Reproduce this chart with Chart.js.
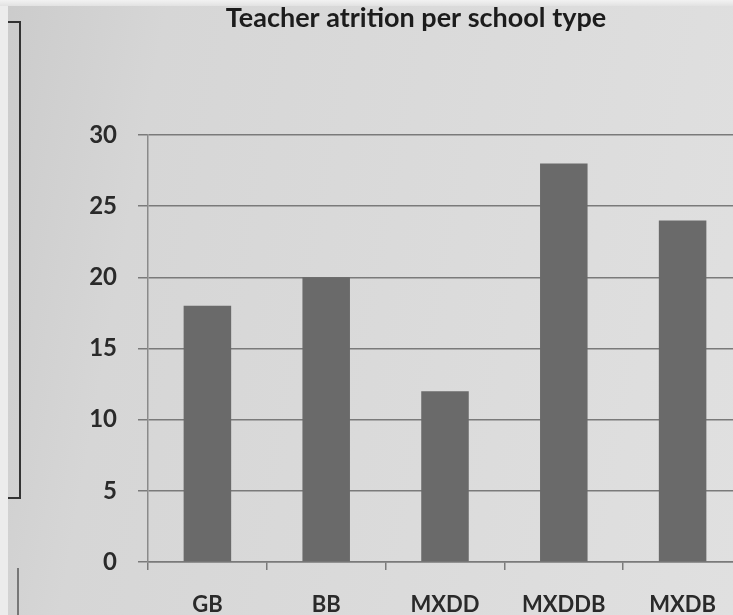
<!DOCTYPE html>
<html lang="en">
<head>
    <meta charset="UTF-8">
    <title>Teacher atrition per school type</title>
    <style>
        html, body {
            margin: 0;
            padding: 0;
            width: 733px;
            height: 615px;
            overflow: hidden;
        }
        body {
            position: relative;
            background: linear-gradient(100deg, #cbcbcb 0%, #d6d6d6 20%, #dbdbdb 60%, #e0e0e0 100%);
        }
        .edge {
            position: absolute;
            left: 0;
            top: 0;
            width: 8px;
            height: 615px;
            background: #ececec;
        }
        .topedge {
            position: absolute;
            left: 0;
            top: 0;
            width: 733px;
            height: 6px;
            background: linear-gradient(to bottom, #f2f2f2, #e2e2e2);
        }
        /* the frame at the left edge of the photo */
        .frame {
            position: absolute;
            left: 8px;
            top: 21px;
            width: 11px;
            height: 474px;
            border-top: 2px solid #333;
            border-right: 2px solid #333;
            border-bottom: 2px solid #333;
        }
        .rule {
            position: absolute;
            left: 17px;
            top: 568px;
            width: 2px;
            height: 47px;
            background: #777;
        }
        canvas {
            position: absolute;
            left: 0;
            top: 0;
        }
    </style>
</head>
<body>
    <div class="edge"></div>
    <div class="topedge"></div>
    <div class="frame"></div>
    <div class="rule"></div>
    <canvas id="myChart" width="750" height="615"></canvas>

    <script src="https://cdn.jsdelivr.net/npm/chart.js"></script>
    <script>
        const schoolTypes = ['GB', 'BB', 'MXDD', 'MXDDB', 'MXDB'];
        const attrition = [18, 20, 12, 28, 24];
        const yTicks = [0, 5, 10, 15, 20, 25, 30];

        const ctx = document.getElementById('myChart').getContext('2d');

        new Chart(ctx, {
            type: 'bar',
            data: {
                labels: schoolTypes,
                datasets: [{
                    label: 'Attrition',
                    data: attrition,
                    backgroundColor: '#6a6a6a',
                    borderWidth: 0,
                    categoryPercentage: 1,
                    barPercentage: 0.4
                }]
            },
            options: {
                responsive: false,
                animation: false,
                layout: {
                    autoPadding: false,
                    padding: { left: 90, right: 8, top: 0, bottom: 0 }
                },
                plugins: {
                    legend: { display: false },
                    tooltip: { enabled: false },
                    title: {
                        display: true,
                        text: 'Teacher atrition per school type',
                        color: '#1c1c1c',
                        font: { family: 'Lato', size: 27, weight: 'bold', lineHeight: 1.2 },
                        padding: { top: 2, bottom: 100.6 }
                    }
                },
                scales: {
                    x: {
                        afterFit: s => { s.height = 53; },
                        grid: {
                            offset: true,
                            drawOnChartArea: false,
                            drawTicks: true,
                            tickLength: 8,
                            color: '#7a7a7a',
                            lineWidth: 1.5
                        },
                        border: { color: '#7a7a7a', width: 1.5 },
                        ticks: {
                            color: '#2a2a2a',
                            padding: 22,
                            font: { family: 'Lato', size: 22, weight: 'bold' }
                        }
                    },
                    y: {
                        min: 0,
                        max: 30,
                        afterFit: s => { s.width = 58; },
                        afterBuildTicks: s => { s.ticks = yTicks.map(v => ({ value: v })); },
                        grid: {
                            color: '#7a7a7a',
                            lineWidth: 1.5,
                            tickLength: 10
                        },
                        border: { color: '#8a8a8a', width: 1.5 },
                        ticks: {
                            color: '#2a2a2a',
                            padding: 21,
                            font: { family: 'Lato', size: 24, weight: 'bold' }
                        }
                    }
                }
            }
        });
    </script>
</body>
</html>
